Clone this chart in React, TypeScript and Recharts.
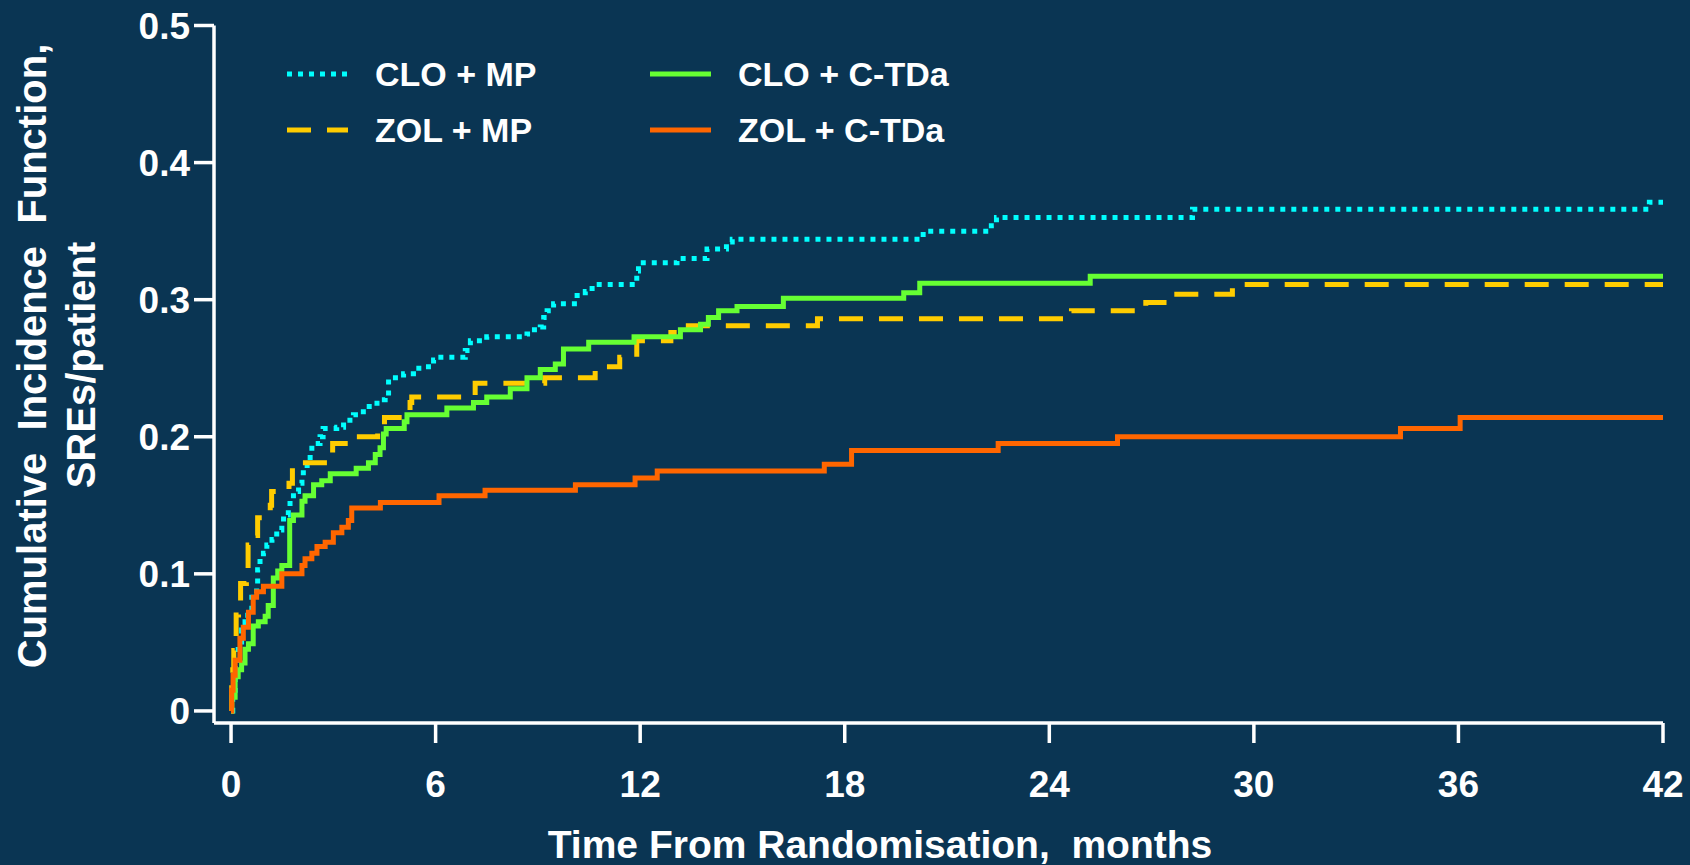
import React from 'react';
import { LineChart, Line, XAxis, YAxis, Legend, Label } from 'recharts';

// cumulative incidence step data: [months, SREs per patient]
const cloMp: [number, number][] = [
  [0, 0], [0.05, 0.015], [0.12, 0.037], [0.21, 0.047], [0.31, 0.059], [0.41, 0.065],
  [0.49, 0.072], [0.61, 0.086], [0.75, 0.092], [0.78, 0.103], [0.85, 0.111], [0.95, 0.115],
  [1.05, 0.121], [1.2, 0.125], [1.34, 0.132], [1.49, 0.136], [1.54, 0.143], [1.68, 0.147],
  [1.73, 0.154], [1.83, 0.16], [1.98, 0.166], [2.08, 0.171], [2.12, 0.179], [2.32, 0.188],
  [2.37, 0.195], [2.61, 0.2], [2.7, 0.206], [3.1, 0.207], [3.3, 0.212], [3.59, 0.216],
  [3.88, 0.222], [4.28, 0.227], [4.52, 0.229], [4.62, 0.243], [5.06, 0.246], [5.35, 0.25],
  [5.6, 0.251], [5.94, 0.256], [6.08, 0.258], [6.87, 0.263], [7.02, 0.27], [7.5, 0.273],
  [8.68, 0.275], [8.78, 0.278], [9.07, 0.28], [9.17, 0.287], [9.27, 0.292], [9.46, 0.297],
  [10.15, 0.303], [10.39, 0.306], [10.59, 0.311], [11.9, 0.321], [11.95, 0.327], [13.08, 0.33],
  [13.96, 0.337], [14.53, 0.342], [14.7, 0.344], [20.3, 0.35], [22.3, 0.354], [22.45, 0.36],
  [28.2, 0.366], [41.6, 0.371], [42, 0.371],
];

const zolMp: [number, number][] = [
  [0, 0], [0.02, 0.017], [0.05, 0.03], [0.08, 0.044], [0.12, 0.054], [0.15, 0.07],
  [0.22, 0.079], [0.28, 0.093], [0.45, 0.104], [0.5, 0.121], [0.7, 0.128], [0.78, 0.141],
  [1.15, 0.15], [1.19, 0.16], [1.7, 0.166], [1.8, 0.178], [2.1, 0.181], [2.98, 0.195],
  [3.6, 0.2], [4.3, 0.208], [4.5, 0.214], [5.25, 0.225], [5.3, 0.229], [7.16, 0.239],
  [9.2, 0.243], [10.68, 0.251], [11.4, 0.258], [11.9, 0.27], [12.9, 0.276], [13.33, 0.281],
  [17.2, 0.286], [24.65, 0.292], [26.83, 0.298], [27.5, 0.304], [29.37, 0.311], [42, 0.311],
];

const cloCtda: [number, number][] = [
  [0, 0], [0.02, 0.01], [0.12, 0.025], [0.21, 0.03], [0.31, 0.035], [0.41, 0.045],
  [0.51, 0.049], [0.65, 0.062], [0.8, 0.065], [1.0, 0.069], [1.09, 0.077], [1.24, 0.097],
  [1.37, 0.102], [1.49, 0.106], [1.72, 0.139], [1.83, 0.143], [2.08, 0.153], [2.17, 0.157],
  [2.42, 0.165], [2.66, 0.168], [2.91, 0.173], [3.67, 0.177], [4.03, 0.181], [4.23, 0.187],
  [4.37, 0.192], [4.47, 0.202], [4.55, 0.206], [5.08, 0.211], [5.16, 0.216], [6.33, 0.221],
  [7.11, 0.225], [7.5, 0.229], [8.19, 0.235], [8.68, 0.243], [9.07, 0.249], [9.51, 0.253],
  [9.75, 0.264], [10.49, 0.269], [11.82, 0.273], [13.18, 0.278], [13.77, 0.282], [14.0, 0.287],
  [14.3, 0.292], [14.84, 0.295], [16.2, 0.301], [19.73, 0.305], [20.2, 0.312], [25.2, 0.317],
  [42, 0.317],
];

const zolCtda: [number, number][] = [
  [0, 0], [0.02, 0.015], [0.06, 0.026], [0.12, 0.037], [0.26, 0.053], [0.36, 0.061],
  [0.51, 0.072], [0.65, 0.083], [0.75, 0.087], [0.95, 0.091], [1.49, 0.1], [2.08, 0.106],
  [2.17, 0.111], [2.37, 0.115], [2.52, 0.12], [2.76, 0.123], [3.0, 0.13], [3.25, 0.134],
  [3.44, 0.139], [3.54, 0.148], [4.38, 0.152], [6.1, 0.157], [7.45, 0.161], [10.1, 0.165],
  [11.85, 0.17], [12.5, 0.175], [17.4, 0.18], [18.2, 0.19], [22.5, 0.195], [26.0, 0.2],
  [34.3, 0.206], [36.05, 0.214], [42, 0.214],
];

const xTicks = [0, 6, 12, 18, 24, 30, 36, 42];
const yTicks = [0, 0.1, 0.2, 0.3, 0.4, 0.5];

const seriesNames = ['CLO + MP', 'ZOL + MP', 'CLO + C-TDa', 'ZOL + C-TDa'];

const BG = '#0a3553';
const FONT = '"Liberation Sans", Arial, sans-serif';

const toPoints = (arr: [number, number][]) => arr.map(([t, v]) => ({ t, v }));

const series = [
  { name: seriesNames[0], data: toPoints(cloMp), color: '#00ffff', dash: '5 6' },
  { name: seriesNames[1], data: toPoints(zolMp), color: '#ffcc00', dash: '24 16' },
  { name: seriesNames[2], data: toPoints(cloCtda), color: '#66ff33', dash: undefined },
  { name: seriesNames[3], data: toPoints(zolCtda), color: '#ff6600', dash: undefined },
];

const LegendBox = () => {
  const cols = [287, 650];
  const rows = [74, 130];
  return (
    <svg width={1100} height={170} style={{ display: 'block', overflow: 'visible' }}>
      {series.map((s, i) => {
        const x = cols[Math.floor(i / 2)];
        const y = rows[i % 2];
        return (
          <g key={s.name}>
            <line x1={x} x2={x + 61} y1={y} y2={y} stroke={s.color} strokeWidth={5}
              strokeDasharray={s.dash} />
            <text x={x + 88} y={y + 12} fill="#fff" fontSize={34} fontWeight="bold"
              fontFamily={FONT} style={{ whiteSpace: 'pre' }}>{s.name}</text>
          </g>
        );
      })}
    </svg>
  );
};

export default function App() {
  return (
    <div style={{ position: 'absolute', left: 0, top: 0, width: 1690, height: 865, background: BG }}>
      <LineChart width={1690} height={865} margin={{ top: 25.5, right: 27, bottom: 82, left: 134 }}>
        <XAxis
          type="number"
          dataKey="t"
          domain={[-0.5, 42]}
          ticks={xTicks}
          allowDataOverflow
          height={60}
          stroke="#fff"
          strokeWidth={3.5}
          tickSize={20}
          tickMargin={28}
          tick={{ fill: '#fff', fontSize: 37, fontWeight: 'bold', fontFamily: FONT }}
        >
          <Label
            content={() => (
              <text x={880} y={858} textAnchor="middle" fill="#fff" fontSize={39} fontWeight="bold"
                fontFamily={FONT} style={{ whiteSpace: 'pre' }}>
                Time From Randomisation,  months
              </text>
            )}
          />
        </XAxis>
        <YAxis
          type="number"
          domain={[-0.0088, 0.5]}
          ticks={yTicks}
          allowDataOverflow
          width={80}
          stroke="#fff"
          strokeWidth={3.5}
          tickSize={20}
          tickMargin={4}
          tickFormatter={(v: number) => (v === 0 ? '0' : v.toFixed(1))}
          tick={{ fill: '#fff', fontSize: 37, fontWeight: 'bold', fontFamily: FONT }}
        >
          <Label
            content={() => (
              <g fill="#fff" fontSize={40} fontWeight="bold" fontFamily={FONT}>
                <text x={46} y={356} textAnchor="middle" transform="rotate(-90 46 356)"
                  style={{ whiteSpace: 'pre' }}>
                  Cumulative  Incidence  Function,
                </text>
                <text x={95} y={365} textAnchor="middle" transform="rotate(-90 95 365)">
                  SREs/patient
                </text>
              </g>
            )}
          />
        </YAxis>
        <Legend
          layout="vertical"
          align="center"
          verticalAlign="middle"
          wrapperStyle={{ left: 0, top: 0, width: 1100, height: 170 }}
          content={() => <LegendBox />}
        />
        {series.map((s) => (
          <Line
            key={s.name}
            name={s.name}
            data={s.data}
            dataKey="v"
            type="stepAfter"
            stroke={s.color}
            strokeWidth={5}
            strokeDasharray={s.dash}
            dot={false}
            activeDot={false}
            isAnimationActive={false}
          />
        ))}
      </LineChart>
    </div>
  );
}
